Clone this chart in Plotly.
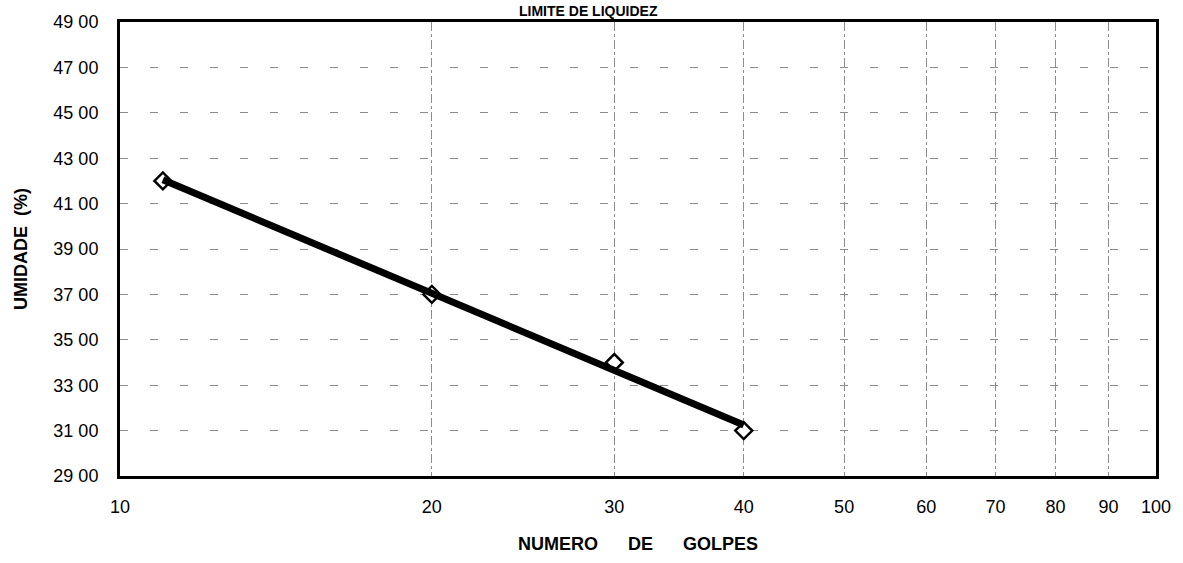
import numpy as np
import plotly.graph_objects as go

# Data
golpes = [11, 20, 30, 40]
umidade = [42.0, 37.0, 34.0, 31.0]

y_ticks = [29, 31, 33, 35, 37, 39, 41, 43, 45, 47, 49]
y_ticktext = ["29 00", "31 00", "33 00", "35 00", "37 00", "39 00", "41 00",
              "43 00", "45 00", "47 00", "49 00"]
x_ticks = [10, 20, 30, 40, 50, 60, 70, 80, 90, 100]
x_ticktext = [str(v) for v in x_ticks]

title_text = "LIMITE DE LIQUIDEZ"
sp = "&nbsp;" * 6
x_title = "NUMERO" + sp + "DE" + sp + "GOLPES"
y_title = "UMIDADE&nbsp;&nbsp;(%)"

# Logarithmic trendline (least squares on log10 of x)
lx = np.log10(golpes)
slope, intercept = np.polyfit(lx, umidade, 1)
fit_x = [golpes[0], golpes[-1]]
fit_y = [intercept + slope * np.log10(v) for v in fit_x]

fig = go.Figure()
fig.add_trace(go.Scatter(x=golpes, y=umidade, mode="markers",
                         marker=dict(symbol="diamond", size=13, color="white",
                                     line=dict(color="black", width=2.5)),
                         showlegend=False))
fig.add_trace(go.Scatter(x=fit_x, y=fit_y, mode="lines",
                         line=dict(color="black", width=7), showlegend=False))

font = "Liberation Sans, Arial, sans-serif"
fig.update_layout(
    width=1183, height=563,
    margin=dict(l=120, r=23, t=18, b=85),
    paper_bgcolor="white", plot_bgcolor="white",
    font=dict(family=font, color="black", size=18),
    annotations=[dict(text="<b>" + title_text + "</b>", xref="paper", yref="paper",
                      x=0.452, y=1.0, yshift=1, xanchor="center", yanchor="bottom",
                      showarrow=False, font=dict(size=14, family=font))],
)
fig.update_xaxes(
    type="log", range=[1, 2], tickvals=x_ticks, ticktext=x_ticktext,
    ticks="", ticklabelstandoff=12, tickfont=dict(size=18),
    showline=True, linecolor="black", linewidth=3, mirror=True,
    showgrid=True, gridcolor="#8c8c8c", gridwidth=1, griddash="dashdot",
    zeroline=False,
    title=dict(text="<b>" + x_title + "</b>", font=dict(size=18), standoff=22),
)
fig.update_yaxes(
    range=[29, 49], tickvals=y_ticks, ticktext=y_ticktext,
    ticks="", ticklabelstandoff=15, tickfont=dict(size=18),
    showline=True, linecolor="black", linewidth=3, mirror=True,
    showgrid=True, gridcolor="#8c8c8c", gridwidth=1, griddash="8px,22px",
    zeroline=False,
    title=dict(text="<b>" + y_title + "</b>", font=dict(size=18), standoff=22),
)
fig.write_html("out.html", config={"displayModeBar": False},
               post_script="document.body.style.margin='0';document.body.style.padding='0';")
